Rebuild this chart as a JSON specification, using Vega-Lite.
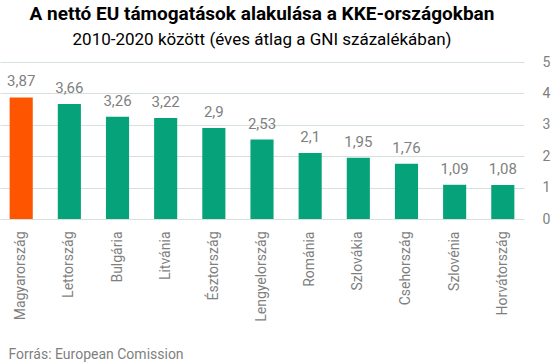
{
  "$schema": "https://vega.github.io/schema/vega-lite/v6.json",
  "width": 524,
  "height": 157,
  "padding": {"left": 0, "top": 5, "right": 4, "bottom": 4},
  "background": "white",
  "title": {
    "text": "A nettó EU támogatások alakulása a KKE-országokban",
    "subtitle": "2010-2020 között (éves átlag a GNI százalékában)",
    "font": "Roboto",
    "fontSize": 19,
    "fontWeight": "bold",
    "color": "#000000",
    "subtitleFont": "Roboto",
    "subtitleFontSize": 17,
    "subtitleColor": "#000000",
    "subtitlePadding": 8,
    "anchor": "middle",
    "frame": "group",
    "offset": 7
  },
  "data": {
    "values": [
      {"country": "Magyarország", "value": 3.87, "hu": true},
      {"country": "Lettország", "value": 3.66, "hu": false},
      {"country": "Bulgária", "value": 3.26, "hu": false},
      {"country": "Litvánia", "value": 3.22, "hu": false},
      {"country": "Észtország", "value": 2.9, "hu": false},
      {"country": "Lengyelország", "value": 2.53, "hu": false},
      {"country": "Románia", "value": 2.1, "hu": false},
      {"country": "Szlovákia", "value": 1.95, "hu": false},
      {"country": "Csehország", "value": 1.76, "hu": false},
      {"country": "Szlovénia", "value": 1.09, "hu": false},
      {"country": "Horvátország", "value": 1.08, "hu": false}
    ]
  },
  "encoding": {
    "x": {
      "field": "country",
      "type": "nominal",
      "sort": null,
      "scale": {"paddingInner": 0.52, "paddingOuter": 0.2},
      "axis": {
        "title": "Forrás: European Comission",
        "titleFont": "Roboto",
        "titleFontSize": 14,
        "titleFontWeight": "normal",
        "titleColor": "#7f7f7f",
        "titleAnchor": "start",
        "titleAlign": "left",
        "titleX": 8,
        "titlePadding": 26,
        "labelAngle": -90,
        "labelAlign": "right",
        "labelBaseline": "middle",
        "labelFont": "Roboto",
        "labelFontSize": 14,
        "labelColor": "#7f7f7f",
        "labelPadding": 12,
        "ticks": false,
        "domain": false,
        "grid": false
      }
    },
    "y": {
      "field": "value",
      "type": "quantitative",
      "scale": {"domain": [0, 5], "nice": false},
      "axis": {
        "orient": "right",
        "title": null,
        "values": [0, 1, 2, 3, 4, 5],
        "labelFont": "Roboto",
        "labelFontSize": 14,
        "labelColor": "#7f7f7f",
        "labelPadding": 18,
        "ticks": false,
        "domain": false,
        "grid": true,
        "gridColor": "#d6e0dd",
        "gridWidth": 1
      }
    }
  },
  "layer": [
    {
      "mark": {"type": "bar"},
      "encoding": {
        "color": {
          "condition": {"test": "datum.hu", "value": "#fd5500"},
          "value": "#06a37b"
        }
      }
    },
    {
      "mark": {
        "type": "text",
        "baseline": "bottom",
        "dy": -8,
        "font": "Roboto",
        "fontSize": 15,
        "color": "#7f7f7f"
      },
      "encoding": {
        "text": {"field": "value", "type": "quantitative", "format": ".3~r"}
      }
    }
  ],
  "config": {
    "view": {"stroke": null},
    "locale": {
      "number": {
        "decimal": ",",
        "thousands": " ",
        "grouping": [3],
        "currency": ["", " Ft"]
      }
    }
  }
}
